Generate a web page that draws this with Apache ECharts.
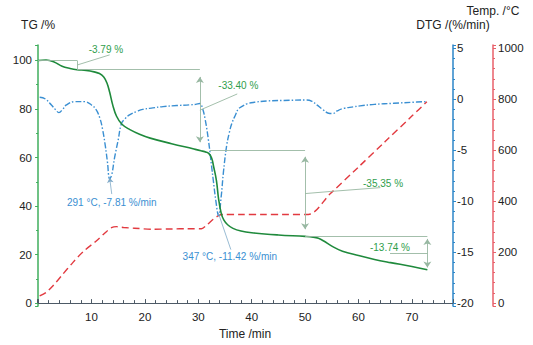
<!DOCTYPE html>
<html><head><meta charset="utf-8">
<script src="https://cdn.jsdelivr.net/npm/echarts@6/dist/echarts.min.js"></script>
<style>html,body{margin:0;padding:0;background:#fff}#c{width:533px;height:345px}</style>
</head><body><div id="c"></div>
<script>
// ---- data ----
const tgTime  = [0, 1.5, 3, 4.5, 6, 7.3, 9, 10.5, 11.5, 12.3, 12.9, 13.4, 14.0, 14.7, 15.7, 17.2, 19, 21, 25, 29, 30.5, 31.5, 32.0, 32.5, 32.9, 33.4, 33.8, 34.3, 34.8, 35.5, 36.5, 38, 40, 45, 50, 51.5, 52.5, 53.5, 55, 57, 60, 63, 66, 70, 72.9];
const tgValue = [100, 100.2, 99.4, 97.6, 96.7, 96.2, 95.9, 95.3, 94.6, 93.2, 90.7, 87.0, 81.5, 77.0, 73.7, 71.5, 69.6, 68.0, 65.7, 63.6, 62.8, 62.2, 61.6, 59.8, 56.0, 50.5, 43.0, 37.0, 34.2, 32.3, 30.8, 29.7, 29.0, 28.1, 27.5, 27.2, 26.7, 25.6, 23.5, 21.4, 19.6, 18.0, 16.7, 15.1, 13.72];

const dtgTime  = [0.3, 1.3, 2.5, 3.3, 3.9, 4.6, 5.3, 6.9, 8.7, 10.0, 10.9, 11.6, 12.1, 12.6, 13.0, 13.4, 13.8, 14.3, 15.0, 15.6, 16.3, 17.2, 18.5, 19.6, 21.5, 23.4, 26, 28.4, 29.5, 30.3, 30.8, 31.3, 31.9, 32.5, 32.8, 33.3, 33.8, 34.3, 34.7, 35.3, 35.8, 36.3, 37.0, 37.5, 38.2, 39.1, 40.5, 42.8, 46, 50.3, 51.3, 52.2, 53.3, 54.4, 55.2, 56, 57.2, 59, 60.3, 63, 66.6, 70, 72.8];
const dtgValue = [0.2, 0.05, -0.56, -1.05, -1.31, -1.0, -0.56, -0.23, -0.23, -0.56, -1.05, -1.9, -3.0, -4.6, -6.2, -7.81, -7.4, -5.8, -4.0, -2.4, -1.9, -1.5, -1.2, -1.0, -0.85, -0.72, -0.62, -0.55, -0.5, -0.42, -0.9, -2.0, -4.0, -6.6, -7.9, -10.0, -11.42, -9.5, -7.2, -4.6, -3.3, -2.35, -1.5, -0.95, -0.7, -0.45, -0.3, -0.17, -0.12, -0.07, -0.2, -0.55, -1.0, -1.37, -1.4, -1.15, -0.9, -0.75, -0.65, -0.5, -0.4, -0.3, -0.23];

const tempTime  = [0.3, 1.5, 2.8, 4.5, 6.5, 8.5, 10.9, 12.5, 13.75, 14.7, 16, 18, 21.6, 25, 28, 30.6, 31.5, 32.8, 33.8, 34.4, 38, 42, 46, 50.6, 54.7, 60, 65, 70, 72.8];
const tempValue = [28, 42, 68, 110, 159, 203, 244, 275, 296, 300, 297, 294, 290, 291, 292, 292, 305, 329, 343, 348, 348, 348, 348, 348, 429, 534, 634, 734, 790];

// mass-loss steps (TG levels between steps) and their labels
const stepLevels = [100, 96.21, 62.81, 27.46, 13.72];
const stepTimes  = [7.3, 30.3, 50.0, 72.9];
const stepLabels = ['-3.79 %', '-33.40 %', '-35.35 %', '-13.74 %'];

// DTG peaks
const peakTimes = [13.4, 33.8];
const peakRates = [-7.81, -11.42];
const peakTemps = [291, 347];

// ---- build ----
const FONT = '"Liberation Sans", Arial, sans-serif';
const GREEN = '#1f8a3c', GREEN_AX = '#3fae5c', GREEN_TXT = '#2f9e4c';
const BLUE = '#3a8fd2', BLUE_AX = '#2c86c8';
const RED = '#e23a40', RED_AX = '#e8606a';
const ANNO = '#98b8a2', ANNO_B = '#7fa9c8';

const zip = (a, b) => a.map((x, i) => [x, b[i]]);
const seg = (x1, y1, x2, y2, s1, s2) => [
  {coord: [x1, y1], symbol: s1 || 'none'},
  {coord: [x2, y2], symbol: s2 || 'none'}
];
const L = stepLevels, T = stepTimes;
const mid = i => (L[i] + L[i + 1]) / 2;

const tgLines = [
  seg(0, L[0], T[0], L[0]),
  seg(T[0], L[0], T[0], L[1]),
  seg(T[0], L[1], T[1], L[1]),
  seg(T[1], L[1] - 3, T[1], L[2] + 3.5, 'arrow', 'arrow'),
  seg(32.2, L[2], T[2], L[2]),
  seg(T[2], L[2] - 2.5, T[2], L[3] + 3, 'arrow', 'arrow'),
  seg(T[2], L[3], T[3], L[3]),
  seg(T[3], L[3] - 1, T[3], L[4] + 1, 'arrow', 'arrow'),
  // leaders
  seg(T[0], mid(0), 13.4, 102.3),
  seg(T[1], mid(1), 37.3, 86.2),
  seg(T[2], mid(2), 54.7, 46.0),
  seg(54.7, 46.0, 64.1, 47.6),
  seg(T[3], mid(3), 65.9, mid(3))
];
const tgLabelPos = [[12.7, 104.7], [37.5, 89.5], [64.6, 49.3], [65.9, 22.9]];
const tgLabels = stepLabels.map((s, i) => ({
  coord: tgLabelPos[i], value: s, symbol: 'circle', symbolSize: 1,
  itemStyle: {color: 'rgba(0,0,0,0)'},
  label: {show: true, position: 'inside', formatter: s, color: GREEN_TXT, fontSize: 10, fontFamily: FONT}
}));

const dtgLines = [
  seg(peakTimes[0], peakRates[0] + 0.1, 13.8, -9.3, 'arrow', 'none'),
  seg(33.75, -11.15, 36.1, -14.75)
];
const dtgLabelPos = [[13.8, -10.1], [35.9, -15.4]];
const dtgLabels = peakTimes.map((t, i) => {
  const txt = peakTemps[i] + ' °C, ' + peakRates[i].toFixed(2) + ' %/min';
  return {
    coord: dtgLabelPos[i], value: txt, symbol: 'circle', symbolSize: 1,
    itemStyle: {color: 'rgba(0,0,0,0)'},
    label: {show: true, position: 'inside', formatter: txt, color: BLUE, fontSize: 10, fontFamily: FONT}
  };
});

const plain = v => String(Math.round(v * 100) / 100);
const axisLabelBase = {color: '#222', fontSize: 11.5, fontFamily: FONT, showMinLabel: false, showMaxLabel: false, formatter: plain};
const nameStyle = {color: '#222', fontSize: 12, fontWeight: 'normal', fontFamily: FONT, align: 'center'};

const chart = echarts.init(document.getElementById('c'), null, {renderer: 'svg'});
chart.setOption({
  animation: false,
  backgroundColor: '#fff',
  grid: {left: 37, right: 80, top: 45, bottom: 38},
  xAxis: {
    type: 'value', min: -0.2, max: 77.7, splitNumber: 8,
    name: 'Time /min', nameLocation: 'middle', nameGap: 18,
    nameTextStyle: nameStyle,
    axisLine: {lineStyle: {color: '#4d5a66', width: 1}},
    axisTick: {inside: true, length: 4, lineStyle: {color: '#4d5a66'}},
    minorTick: {show: true, splitNumber: 5, length: 3, lineStyle: {color: '#4d5a66'}},
    axisLabel: Object.assign({}, axisLabelBase, {margin: 5, formatter: v => (Math.abs(v) < 1e-9 ? '' : plain(v))}),
    splitLine: {show: false}
  },
  yAxis: [
    {
      type: 'value', min: -1.23, max: 106.37, splitNumber: 5, position: 'left',
      name: 'TG /%', nameGap: 14, nameTextStyle: nameStyle,
      axisLine: {show: true, lineStyle: {color: GREEN_AX, width: 1.5}},
      axisTick: {show: true, length: 3, lineStyle: {color: GREEN_AX}},
      minorTick: {show: true, splitNumber: 2, length: 2, lineStyle: {color: GREEN_AX}},
      axisLabel: Object.assign({}, axisLabelBase, {margin: 5}),
      splitLine: {show: false}
    },
    {
      type: 'value', min: -20.29, max: 5.32, splitNumber: 5, position: 'right', offset: 0,
      name: 'DTG /(%/min)', nameGap: 14, nameTextStyle: nameStyle,
      axisLine: {show: true, lineStyle: {color: BLUE_AX, width: 1.5}},
      axisTick: {show: true, length: 3, lineStyle: {color: BLUE_AX}},
      minorTick: {show: true, splitNumber: 5, length: 2, lineStyle: {color: BLUE_AX}},
      axisLabel: Object.assign({}, axisLabelBase, {margin: 4}),
      splitLine: {show: false}
    },
    {
      type: 'value', min: -11.7, max: 1012.9, splitNumber: 5, position: 'right', offset: 40,
      name: 'Temp. /°C', nameGap: 28, nameTextStyle: nameStyle,
      axisLine: {show: true, lineStyle: {color: RED_AX, width: 1.5}},
      axisTick: {show: true, length: 3, lineStyle: {color: RED_AX}},
      minorTick: {show: true, splitNumber: 5, length: 2, lineStyle: {color: RED_AX}},
      axisLabel: Object.assign({}, axisLabelBase, {margin: 5}),
      splitLine: {show: false}
    }
  ],
  series: [
    {
      name: 'Temp', type: 'line', yAxisIndex: 2, data: zip(tempTime, tempValue),
      showSymbol: false, smooth: 0.3,
      lineStyle: {color: RED, width: 1.4, type: [7, 4]}
    },
    {
      name: 'DTG', type: 'line', yAxisIndex: 1, data: zip(dtgTime, dtgValue),
      showSymbol: false, smooth: 0.4,
      lineStyle: {color: BLUE, width: 1.4, type: [6, 2, 1.5, 2]},
      markLine: {silent: true, symbol: 'none', symbolSize: 5, label: {show: false},
        lineStyle: {color: ANNO_B, width: 0.8, type: 'solid'}, data: dtgLines},
      markPoint: {silent: true, data: dtgLabels}
    },
    {
      name: 'TG', type: 'line', yAxisIndex: 0, data: zip(tgTime, tgValue),
      showSymbol: false, smooth: 0.4,
      lineStyle: {color: GREEN, width: 1.6},
      markLine: {silent: true, symbol: 'none', symbolSize: 6, label: {show: false},
        lineStyle: {color: ANNO, width: 0.9, type: 'solid'}, data: tgLines},
      markPoint: {silent: true, data: tgLabels}
    }
  ]
});
</script></body></html>
